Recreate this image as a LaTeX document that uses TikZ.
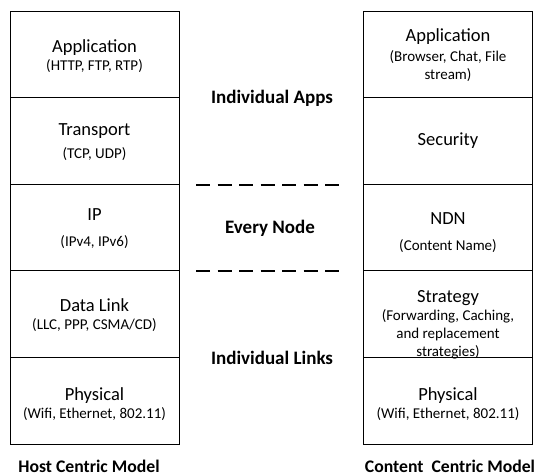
\documentclass[tikz,border=0pt]{standalone}
\usepackage{fontspec}
\setmainfont{Carlito}
\begin{document}
\begin{tikzpicture}[x=1pt,y=-1pt,
  layer/.style={draw=black,line width=0.9pt,minimum width=169pt,minimum height=86.6pt,inner sep=0pt,outer sep=0pt},
  txt/.style={align=center,inner sep=0pt,font=\fontsize{15}{18}\selectfont},
  big/.style={font=\fontsize{19}{22}\selectfont\bfseries,inner sep=0pt},
  title/.style={font=\fontsize{17.7}{21}\selectfont\bfseries,inner sep=0pt,anchor=base},
  sep/.style={line width=1.2pt,dash pattern=on 14pt off 7.5pt}]
\useasboundingbox (0,0) rectangle (542,476);
\newcommand{\mainline}[1]{{\fontsize{18.5}{20}\selectfont #1}}
% left stack
\node[layer] (l1) at (94.5,54.3) {};
\node[layer] (l2) at (94.5,140.9) {};
\node[layer] (l3) at (94.5,227.5) {};
\node[layer] (l4) at (94.5,314.1) {};
\node[layer] (l5) at (94.5,400.7) {};
% right stack
\node[layer] (r1) at (448,54.3) {};
\node[layer] (r2) at (448,140.9) {};
\node[layer] (r3) at (448,227.5) {};
\node[layer] (r4) at (448,314.1) {};
\node[layer] (r5) at (448,400.7) {};
% texts left
\node[txt] (l1t) at ([yshift=-2]l1.center) {\mainline{Application}\\(HTTP, FTP, RTP)};
\node[txt] (l2t) at ([yshift=-1.6]l2.center) {\mainline{Transport}\\[5pt](TCP, UDP)};
\node[txt] (l3t) at ([yshift=-1.5]l3.center) {\mainline{IP}\\[8pt](IPv4, IPv6)};
\node[txt] (l4t) at ([yshift=-1.4]l4.center) {\mainline{Data Link}\\(LLC, PPP, CSMA/CD)};
\node[txt] (l5t) at ([yshift=-3.5]l5.center) {\mainline{Physical}\\(Wifi, Ethernet, 802.11)};
% texts right
\node[txt] (r1t) at ([yshift=-1]r1.center) {\mainline{Application}\\[2pt](Browser, Chat, File\\stream)};
\node[txt] (r2t) at (r2.center) {\mainline{Security}};
\node[txt] (r3t) at ([yshift=-5.5]r3.center) {\mainline{NDN}\\[8pt](Content Name)};
\node[txt] (r4t) at ([yshift=-11]r4.center) {\mainline{Strategy}\\(Forwarding, Caching,\\and replacement\\strategies)};
\node[txt] (r5t) at ([yshift=-3.5]r5.center) {\mainline{Physical}\\(Wifi, Ethernet, 802.11)};
% middle labels
\node[big] (apps) at (272,98) {Individual Apps};
\node[big] (every) at (270,228) {Every Node};
\node[big] (links) at (272,358) {Individual Links};
% dashed separators
\coordinate (d1a) at (196,185);
\coordinate (d1b) at (344,185);
\coordinate (d2a) at (196,271);
\coordinate (d2b) at (344,271);
\draw[sep] (d1a) -- (d1b);
\draw[sep] (d2a) -- (d2b);
% titles
\node[title] (host) at (89,473) {Host Centric Model};
\node[title] (content) at (450,473) {Content\ \ Centric Model};
\end{tikzpicture}
\end{document}
